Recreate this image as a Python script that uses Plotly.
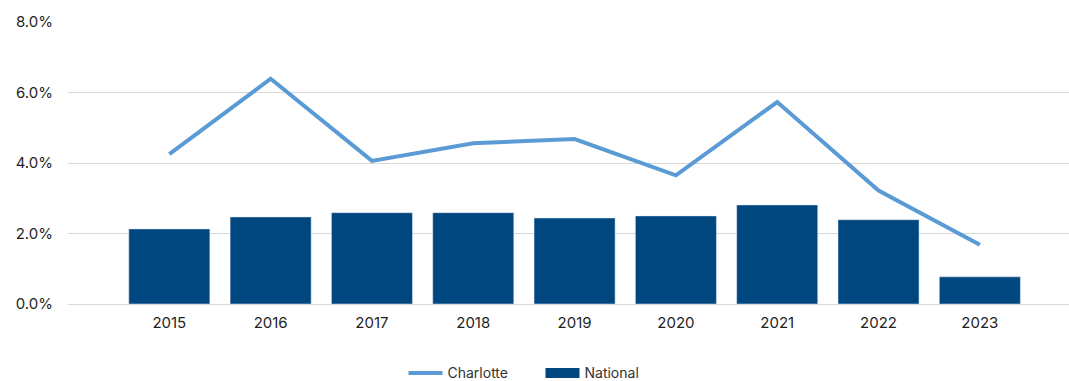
import plotly.graph_objects as go

years = ["2015", "2016", "2017", "2018", "2019", "2020", "2021", "2022", "2023"]
charlotte = [4.25, 6.39, 4.06, 4.56, 4.68, 3.65, 5.73, 3.22, 1.68]
national = [2.13, 2.47, 2.59, 2.59, 2.44, 2.50, 2.81, 2.39, 0.77]

NAVY = "#00467F"
LIGHT = "#5B9BD5"

fig = go.Figure()
fig.add_trace(go.Bar(x=years, y=national, name="National", marker_color=NAVY,
                     width=0.8, showlegend=False))
fig.add_trace(go.Scatter(x=years, y=charlotte, name="Charlotte", mode="lines",
                         line=dict(color=LIGHT, width=4)))
# legend swatch for the bars (wide rectangle like the reference)
fig.add_trace(go.Scatter(x=[None], y=[None], name="National", mode="lines",
                         line=dict(color=NAVY, width=15), hoverinfo="skip"))

fig.update_layout(
    width=1069, height=381,
    margin=dict(l=68, r=0, t=22, b=77),
    plot_bgcolor="white", paper_bgcolor="white",
    font=dict(family="Inter", size=15, color="#1F1F1F"),
    showlegend=True,
    legend=dict(orientation="h", xref="container", yref="container",
                x=0.5056, xanchor="center", y=0.02, yanchor="middle",
                itemwidth=34, entrywidth=88, entrywidthmode="pixels",
                font=dict(size=14, color="#333333")),
    xaxis=dict(type="category", range=[-1.0, 8.88], showgrid=False,
               showline=False, ticks="", ticklabelstandoff=8),
    yaxis=dict(range=[0, 8], tickvals=[0, 2, 4, 6, 8],
               ticktext=["0.0%", "2.0%", "4.0%", "6.0%", "8.0%"],
               showgrid=True, gridcolor="#D9D9D9", gridwidth=1,
               zeroline=True, zerolinecolor="#D9D9D9", zerolinewidth=1,
               showline=False, ticks="", ticklabelstandoff=14),
)

fig.write_html("out.html")
